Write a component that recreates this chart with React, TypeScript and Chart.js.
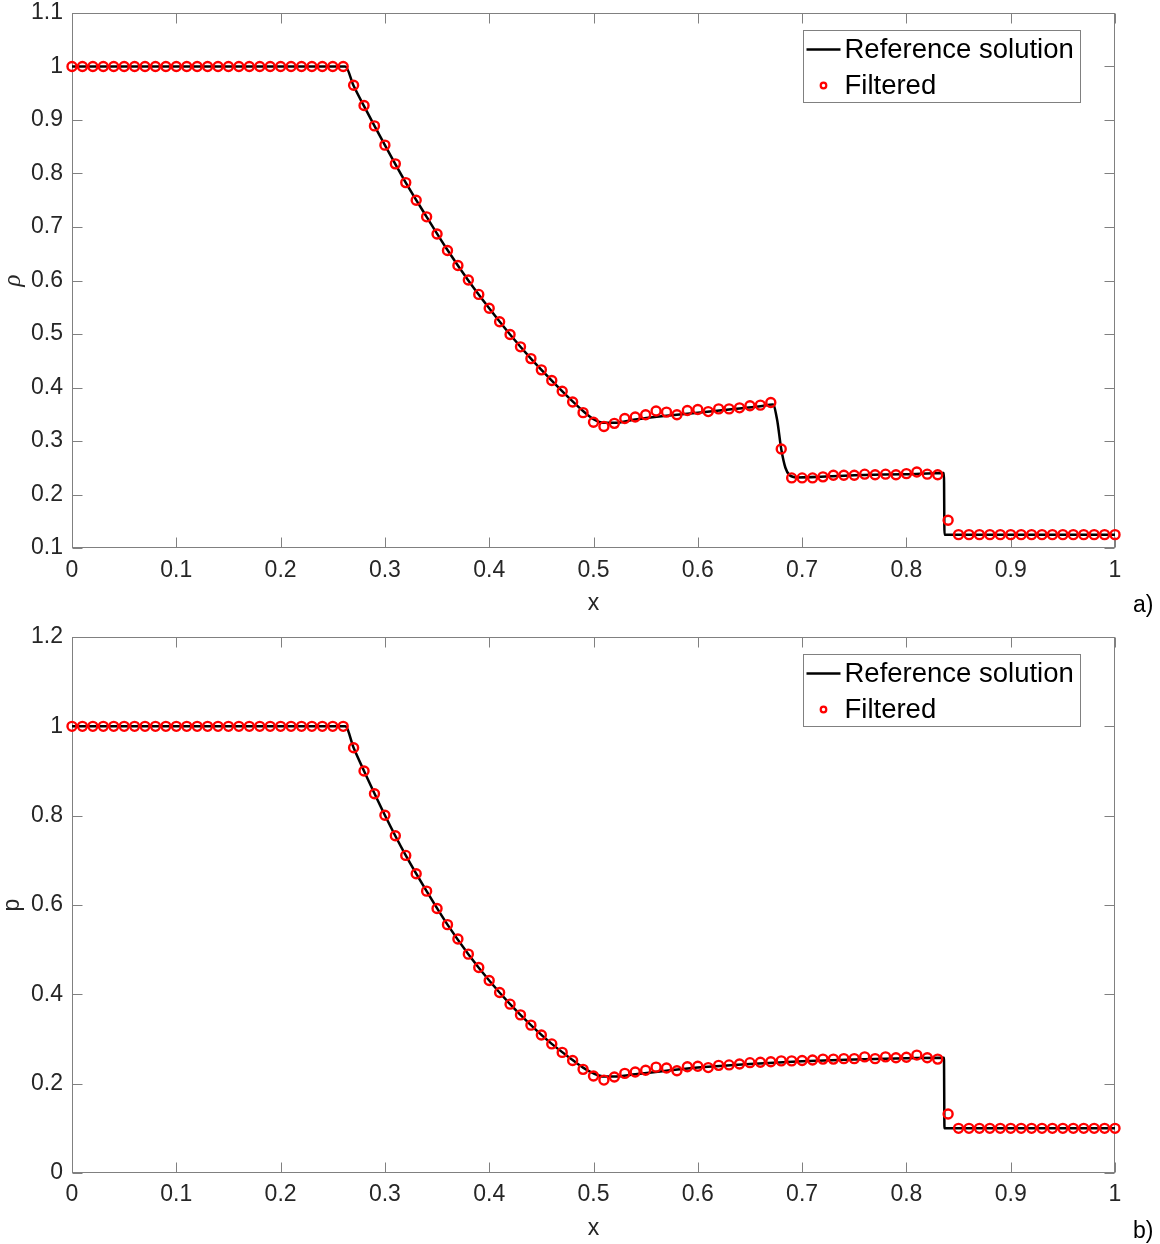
import React, { useEffect, useRef } from 'react';
import { Chart, registerables } from 'chart.js';

Chart.register(...registerables);

// ---------- data ----------
const X_GRID = [
  0, 0.01, 0.02, 0.03, 0.04, 0.05, 0.06, 0.07, 0.08, 0.09,
  0.1, 0.11, 0.12, 0.13, 0.14, 0.15, 0.16, 0.17, 0.18, 0.19,
  0.2, 0.21, 0.22, 0.23, 0.24, 0.25, 0.26, 0.27, 0.28, 0.29,
  0.3, 0.31, 0.32, 0.33, 0.34, 0.35, 0.36, 0.37, 0.38, 0.39,
  0.4, 0.41, 0.42, 0.43, 0.44, 0.45, 0.46, 0.47, 0.48, 0.49,
  0.5, 0.51, 0.52, 0.53, 0.54, 0.55, 0.56, 0.57, 0.58, 0.59,
  0.6, 0.61, 0.62, 0.63, 0.64, 0.65, 0.66, 0.67, 0.68, 0.69,
  0.7, 0.71, 0.72, 0.73, 0.74, 0.75, 0.76, 0.77, 0.78, 0.79,
  0.8, 0.81, 0.82, 0.83, 0.84, 0.85, 0.86, 0.87, 0.88, 0.89,
  0.9, 0.91, 0.92, 0.93, 0.94, 0.95, 0.96, 0.97, 0.98, 0.99,
  1,
];

const RHO_FILTERED = [
  1, 1, 1, 1, 1, 1, 1, 1, 1, 1,
  1, 1, 1, 1, 1, 1, 1, 1, 1, 1,
  1, 1, 1, 1, 1, 1, 1, 0.965, 0.927, 0.889,
  0.853, 0.818, 0.783, 0.75, 0.719, 0.687, 0.656, 0.628, 0.601, 0.574,
  0.548, 0.523, 0.499, 0.476, 0.454, 0.433, 0.413, 0.393, 0.373, 0.353,
  0.335, 0.327, 0.333, 0.342, 0.345, 0.349, 0.356, 0.354, 0.349, 0.357,
  0.359, 0.355, 0.36, 0.36, 0.362, 0.366, 0.367, 0.372, 0.285, 0.231,
  0.231, 0.231, 0.233, 0.236, 0.236, 0.236, 0.238, 0.237, 0.238, 0.237,
  0.239, 0.242, 0.238, 0.237, 0.152, 0.125, 0.125, 0.125, 0.125, 0.125,
  0.125, 0.125, 0.125, 0.125, 0.125, 0.125, 0.125, 0.125, 0.125, 0.125,
  0.125,
];

const P_FILTERED = [
  1, 1, 1, 1, 1, 1, 1, 1, 1, 1,
  1, 1, 1, 1, 1, 1, 1, 1, 1, 1,
  1, 1, 1, 1, 1, 1, 1, 0.952, 0.9, 0.849,
  0.801, 0.755, 0.711, 0.67, 0.631, 0.592, 0.556, 0.524, 0.49, 0.46,
  0.431, 0.404, 0.378, 0.354, 0.331, 0.309, 0.289, 0.27, 0.252, 0.232,
  0.217, 0.208, 0.215, 0.223, 0.226, 0.23, 0.237, 0.235, 0.229, 0.238,
  0.239, 0.236, 0.241, 0.242, 0.244, 0.247, 0.248, 0.249, 0.251, 0.251,
  0.252, 0.253, 0.255, 0.255, 0.256, 0.256, 0.26, 0.256, 0.26, 0.258,
  0.259, 0.264, 0.258, 0.255, 0.132, 0.1, 0.1, 0.1, 0.1, 0.1,
  0.1, 0.1, 0.1, 0.1, 0.1, 0.1, 0.1, 0.1, 0.1, 0.1,
  0.1,
];

const REF_X_RHO = [
  0, 0.262, 0.27, 0.28, 0.3, 0.32, 0.34, 0.36, 0.38, 0.4, 0.42, 0.44, 0.46,
  0.48, 0.49, 0.5, 0.51, 0.52, 0.54, 0.57, 0.6, 0.63, 0.66, 0.672, 0.676,
  0.68, 0.684, 0.688, 0.695, 0.75, 0.8, 0.836, 0.8365, 1,
];
const REF_RHO = [
  1, 1, 0.964, 0.926, 0.853, 0.783, 0.719, 0.657, 0.6, 0.548, 0.499, 0.454, 0.413,
  0.374, 0.356, 0.341, 0.334, 0.334, 0.34, 0.347, 0.353, 0.359, 0.365, 0.368, 0.34,
  0.285, 0.25, 0.236, 0.232, 0.236, 0.238, 0.24, 0.125, 0.125,
];

const REF_X_P = [
  0, 0.262, 0.27, 0.28, 0.3, 0.32, 0.34, 0.36, 0.38, 0.4, 0.42, 0.44, 0.46,
  0.48, 0.49, 0.5, 0.51, 0.52, 0.54, 0.57, 0.6, 0.65, 0.7, 0.75, 0.8, 0.836,
  0.8365, 1,
];
const REF_P = [
  1, 1, 0.952, 0.9, 0.801, 0.711, 0.631, 0.556, 0.49, 0.431, 0.378, 0.331, 0.289,
  0.253, 0.236, 0.223, 0.216, 0.216, 0.221, 0.229, 0.236, 0.244, 0.25, 0.254, 0.257, 0.258,
  0.1, 0.1,
];

const X_TICKS = [0, 0.1, 0.2, 0.3, 0.4, 0.5, 0.6, 0.7, 0.8, 0.9, 1];
const X_TICK_LABELS = ['0', '0.1', '0.2', '0.3', '0.4', '0.5', '0.6', '0.7', '0.8', '0.9', '1'];
const RHO_TICKS = [0.1, 0.2, 0.3, 0.4, 0.5, 0.6, 0.7, 0.8, 0.9, 1, 1.1];
const RHO_TICK_LABELS = ['0.1', '0.2', '0.3', '0.4', '0.5', '0.6', '0.7', '0.8', '0.9', '1', '1.1'];
const P_TICKS = [0, 0.2, 0.4, 0.6, 0.8, 1, 1.2];
const P_TICK_LABELS = ['0', '0.2', '0.4', '0.6', '0.8', '1', '1.2'];

const LEGEND_LABELS = ['Reference solution', 'Filtered'];

// ---------- styles ----------
const FONT = '"Liberation Sans", Arial, Helvetica, sans-serif';
const TICK_COLOR = '#262626';
const FRAME_COLOR = '#808080';
const TICK_LEN = 10;

type PanelCfg = {
  refX: number[];
  refY: number[];
  filt: number[];
  yMin: number;
  yMax: number;
  yTicks: number[];
  yTickLabels: string[];
  yTitle: string;
  yTitleFont: any;
  panelLabel: string;
  canvasHeight: number;
  padTop: number;
  xAxisHeight: number;
  xTickPad: number;
  xTitlePadBottom: number;
  panelLabelY: number;
};

function makeFramePlugin(yTicks: number[]) {
  return {
    id: 'frameTicks',
    beforeDatasetsDraw(chart: any) {
      const { ctx, chartArea: a, scales } = chart;
      ctx.save();
      ctx.strokeStyle = FRAME_COLOR;
      ctx.lineWidth = 1;
      const L = Math.round(a.left) + 0.5;
      const R = Math.round(a.right) - 0.5;
      const T = Math.round(a.top) + 0.5;
      const B = Math.round(a.bottom) - 0.5;
      ctx.strokeRect(L, T, R - L, B - T);
      ctx.beginPath();
      X_TICKS.forEach((v) => {
        const px = Math.round(scales.x.getPixelForValue(v)) + 0.5;
        ctx.moveTo(px, B);
        ctx.lineTo(px, B - TICK_LEN);
        ctx.moveTo(px, T);
        ctx.lineTo(px, T + TICK_LEN);
      });
      yTicks.forEach((v) => {
        const py = Math.round(scales.y.getPixelForValue(v)) + 0.5;
        ctx.moveTo(L, py);
        ctx.lineTo(L + TICK_LEN, py);
        ctx.moveTo(R, py);
        ctx.lineTo(R - TICK_LEN, py);
      });
      ctx.stroke();
      ctx.restore();
    },
  };
}

function makeOverlayPlugin(panelLabel: string, panelLabelY: number) {
  return {
    id: 'overlay',
    afterDraw(chart: any) {
      const { ctx, chartArea: a } = chart;
      ctx.save();
      // legend box
      const bw = 277;
      const bh = 72;
      const bx = Math.round(a.right - 35 - bw) + 0.5;
      const by = Math.round(a.top + 17) + 0.5;
      ctx.fillStyle = '#ffffff';
      ctx.fillRect(bx, by, bw, bh);
      ctx.strokeStyle = FRAME_COLOR;
      ctx.lineWidth = 1;
      ctx.strokeRect(bx, by, bw, bh);
      const row1 = by + 19;
      const row2 = by + 55;
      // line sample
      ctx.strokeStyle = '#000000';
      ctx.lineWidth = 2.5;
      ctx.beginPath();
      ctx.moveTo(bx + 3, row1);
      ctx.lineTo(bx + 37, row1);
      ctx.stroke();
      // marker sample
      ctx.strokeStyle = '#ff0000';
      ctx.lineWidth = 2.2;
      ctx.beginPath();
      ctx.arc(bx + 20, row2, 2.8, 0, Math.PI * 2);
      ctx.stroke();
      // text
      ctx.fillStyle = '#000000';
      ctx.font = `27.5px ${FONT}`;
      ctx.textAlign = 'left';
      ctx.textBaseline = 'middle';
      ctx.fillText(LEGEND_LABELS[0], bx + 41, row1 + 1);
      ctx.fillText(LEGEND_LABELS[1], bx + 41, row2 + 1);
      // panel label
      ctx.font = `23px ${FONT}`;
      ctx.fillStyle = '#000000';
      ctx.fillText(panelLabel, 1133, panelLabelY);
      ctx.restore();
    },
  };
}

function Panel({ cfg }: { cfg: PanelCfg }) {
  const ref = useRef<HTMLCanvasElement | null>(null);
  useEffect(() => {
    if (!ref.current) return;
    const chart = new Chart(ref.current, {
      type: 'line',
      data: {
        datasets: [
          {
            label: LEGEND_LABELS[1],
            data: X_GRID.map((x, i) => ({ x, y: cfg.filt[i] })),
            showLine: false,
            pointStyle: 'circle',
            pointRadius: 4.5,
            pointBorderWidth: 2.4,
            pointBorderColor: '#ff0000',
            pointBackgroundColor: 'rgba(0,0,0,0)',
            pointHoverRadius: 4.5,
            clip: false as any,
            order: 0,
          },
          {
            label: LEGEND_LABELS[0],
            data: cfg.refX.map((x, i) => ({ x, y: cfg.refY[i] })),
            borderColor: '#000000',
            borderWidth: 2.5,
            pointRadius: 0,
            pointHoverRadius: 0,
            cubicInterpolationMode: 'monotone',
            fill: false,
            clip: false as any,
            order: 1,
          },
        ],
      },
      options: {
        animation: false,
        responsive: false,
        maintainAspectRatio: false,
        devicePixelRatio: 1,
        events: [],
        layout: { padding: { left: 0, right: 45, top: cfg.padTop, bottom: 0 } },
        plugins: { legend: { display: false }, tooltip: { enabled: false } },
        scales: {
          x: {
            type: 'linear',
            min: 0,
            max: 1,
            afterBuildTicks: (s: any) => {
              s.ticks = X_TICKS.map((v) => ({ value: v }));
            },
            afterFit: (s: any) => {
              s.height = cfg.xAxisHeight;
              s.paddingLeft = 0;
              s.paddingRight = 0;
              s.paddingTop = 0;
              s.paddingBottom = 0;
            },
            ticks: {
              autoSkip: false,
              maxRotation: 0,
              minRotation: 0,
              padding: cfg.xTickPad,
              color: TICK_COLOR,
              font: { family: FONT, size: 23 },
              callback: (_v: any, i: number) => X_TICK_LABELS[i],
            },
            grid: { display: false, drawTicks: false },
            border: { display: false },
            title: {
              display: true,
              text: 'x',
              color: TICK_COLOR,
              font: { family: FONT, size: 23, lineHeight: 1 },
              padding: { top: 0, bottom: cfg.xTitlePadBottom },
            },
          },
          y: {
            type: 'linear',
            min: cfg.yMin,
            max: cfg.yMax,
            afterBuildTicks: (s: any) => {
              s.ticks = cfg.yTicks.map((v) => ({ value: v }));
            },
            afterFit: (s: any) => {
              s.width = 72;
              s.paddingTop = 0;
              s.paddingBottom = 0;
              s.paddingLeft = 0;
              s.paddingRight = 0;
            },
            ticks: {
              autoSkip: false,
              padding: 9,
              color: TICK_COLOR,
              font: { family: FONT, size: 23 },
              callback: (_v: any, i: number) => cfg.yTickLabels[i],
            },
            grid: { display: false, drawTicks: false },
            border: { display: false },
            title: {
              display: true,
              text: cfg.yTitle,
              color: TICK_COLOR,
              font: cfg.yTitleFont,
              padding: { top: 1, bottom: 0 },
            },
          },
        },
      },
      plugins: [makeFramePlugin(cfg.yTicks), makeOverlayPlugin(cfg.panelLabel, cfg.panelLabelY)],
    } as any);
    return () => chart.destroy();
  }, [cfg]);
  return (
    <canvas
      ref={ref}
      width={1160}
      height={cfg.canvasHeight}
      style={{ display: 'block', width: 1160, height: cfg.canvasHeight }}
    />
  );
}

const TOP_CFG: PanelCfg = {
  refX: REF_X_RHO,
  refY: REF_RHO,
  filt: RHO_FILTERED,
  yMin: 0.1,
  yMax: 1.1,
  yTicks: RHO_TICKS,
  yTickLabels: RHO_TICK_LABELS,
  yTitle: 'ρ',
  yTitleFont: { family: '"Liberation Serif", "DejaVu Serif", serif', size: 25, style: 'italic', lineHeight: 1 },
  panelLabel: 'a)',
  canvasHeight: 620,
  padTop: 13,
  xAxisHeight: 72,
  xTickPad: 9,
  xTitlePadBottom: 5,
  panelLabelY: 606,
};

const BOTTOM_CFG: PanelCfg = {
  refX: REF_X_P,
  refY: REF_P,
  filt: P_FILTERED,
  yMin: 0,
  yMax: 1.2,
  yTicks: P_TICKS,
  yTickLabels: P_TICK_LABELS,
  yTitle: 'p',
  yTitleFont: { family: FONT, size: 23, lineHeight: 1 },
  panelLabel: 'b)',
  canvasHeight: 624,
  padTop: 17,
  xAxisHeight: 71,
  xTickPad: 8,
  xTitlePadBottom: 4,
  panelLabelY: 612,
};

export default function App() {
  return (
    <div
      style={{
        position: 'absolute',
        left: 0,
        top: 0,
        width: 1160,
        height: 1244,
        background: '#ffffff',
        overflow: 'hidden',
      }}
    >
      <div style={{ position: 'absolute', left: 0, top: 0 }}>
        <Panel cfg={TOP_CFG} />
      </div>
      <div style={{ position: 'absolute', left: 0, top: 620 }}>
        <Panel cfg={BOTTOM_CFG} />
      </div>
    </div>
  );
}
